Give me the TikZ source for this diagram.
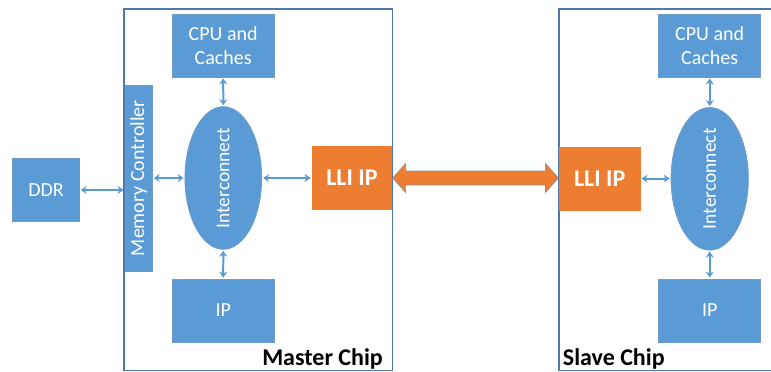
\documentclass[tikz,border=0pt]{standalone}
\usepackage{fontspec}
\setmainfont{Carlito}
\usetikzlibrary{shapes.geometric,arrows.meta,calc}
\definecolor{blk}{HTML}{5B9BD5}
\definecolor{blkedge}{HTML}{6E9CC8}
\definecolor{orng}{HTML}{ED7D31}
\definecolor{orngedge}{HTML}{8A8FA0}
\definecolor{frameblue}{HTML}{4F77A8}
\tikzset{
  block/.style={rectangle, fill=blk, draw=blkedge, line width=0.8pt, inner sep=0pt,
    text=white, align=center, font=\fontsize{20}{24}\selectfont},
  lli/.style={rectangle, fill=orng, draw=orng, line width=0.8pt, inner sep=0pt,
    text=white, font=\bfseries\fontsize{24}{28}\selectfont},
  xbar/.style={ellipse, fill=blk, draw=blkedge, line width=0.8pt, inner sep=0pt,
    text=white, font=\fontsize{19.5}{22}\selectfont},
  chip/.style={draw=frameblue, line width=1.5pt},
  chipname/.style={font=\bfseries\fontsize{24}{28}\selectfont, text=black, inner sep=0pt},
  link/.style={draw=blk, line width=2pt, shorten <=1pt, shorten >=1pt,
    {Stealth[length=6pt,width=8pt]}-{Stealth[length=6pt,width=8pt]}},
  bigarrow/.style={fill=orng, draw=orngedge, line width=0.6pt, line join=miter},
}
\begin{document}
\begin{tikzpicture}[x=1pt,y=-1pt]
\useasboundingbox (0,0) rectangle (771,372);

% chip outlines
\draw[chip] (124,9) rectangle (392.5,370.5);
\draw[chip] (559,9) rectangle (775,370.5);

% master chip
\node[block, minimum width=66.6, minimum height=63] (ddr) at (46,190) {DDR};
\node[block, minimum width=27.3, minimum height=185.7] (mc) at (138.7,178.2)
  {\rotatebox{90}{Memory Controller}};
\node[block, minimum width=101.7, minimum height=62.3] (cpum) at (223.2,45.9)
  {CPU and\\Caches};
\node[xbar, minimum width=76.7, minimum height=140.6] (icm) at (223.3,178)
  {\rotatebox{90}{Interconnect}};
\node[block, minimum width=101.7, minimum height=63] (ipm) at (223.2,310.5) {IP};
\node[lli, minimum width=79.7, minimum height=62.6] (llim) at (351.9,178) {LLI IP};
\node[chipname, anchor=base east] (mname) at (383,365) {Master Chip};

% slave chip
\node[lli, minimum width=80.7, minimum height=63] (llis) at (599.7,178.6) {LLI IP};
\node[block, minimum width=102, minimum height=62.3] (cpus) at (709.7,45.9)
  {CPU and\\Caches};
\node[xbar, minimum width=77.3, minimum height=141] (ics) at (709.7,178.8)
  {\rotatebox{90}{Interconnect}};
\node[block, minimum width=102, minimum height=63] (ips) at (709.7,310.5) {IP};
\node[chipname, anchor=base west] (sname) at (562.7,365) {Slave Chip};

% on-chip links
\draw[link] (ddr.east) -- (ddr.east -| mc.west);
\draw[link] (mc.east |- icm.west) -- (icm.west);
\draw[link] (icm.east) -- (llim.west);
\draw[link] (cpum.south) -- (icm.north);
\draw[link] (icm.south) -- (ipm.north);
\draw[link] (llis.east) -- (llis.east -| ics.west);
\draw[link] (cpus.south) -- (ics.north);
\draw[link] (ics.south) -- (ips.north);

% chip-to-chip LLI link
\draw[bigarrow] let \p1=(llim.east), \p2=(llis.west) in
  (\x1+0.5pt,\y1) -- (\x1+13.5pt,\y1+14.5pt) -- (\x1+13.5pt,\y1+7pt)
  -- (\x2-13.5pt,\y1+7pt) -- (\x2-13.5pt,\y1+14.5pt) -- (\x2-0.5pt,\y1)
  -- (\x2-13.5pt,\y1-14.5pt) -- (\x2-13.5pt,\y1-7pt)
  -- (\x1+13.5pt,\y1-7pt) -- (\x1+13.5pt,\y1-14.5pt) -- cycle;
\end{tikzpicture}
\end{document}
